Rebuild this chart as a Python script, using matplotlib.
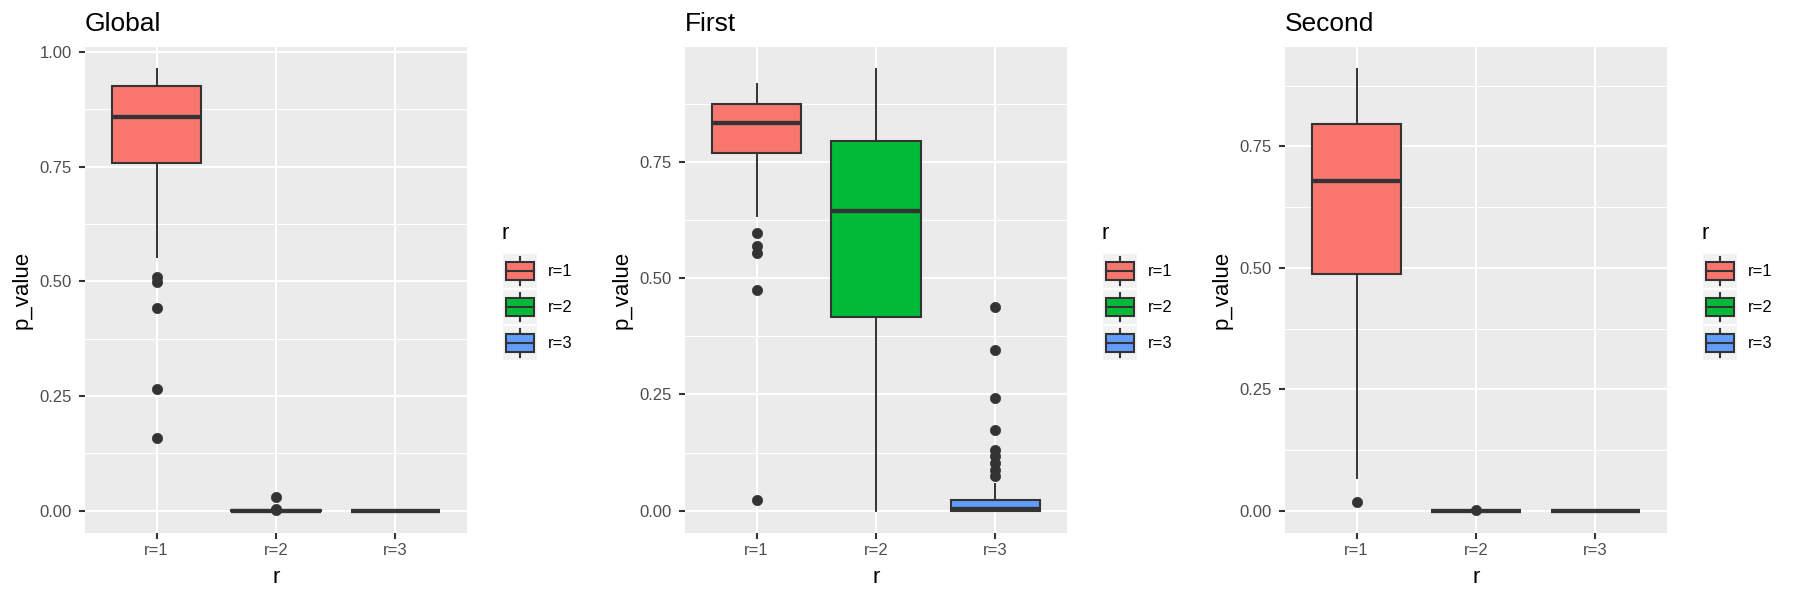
import matplotlib
matplotlib.use("Agg")
import matplotlib.pyplot as plt
from matplotlib.patches import Rectangle
from matplotlib.lines import Line2D
from matplotlib.legend_handler import HandlerBase
from matplotlib.ticker import FixedLocator, FormatStrFormatter

plt.rcParams['font.family'] = ['Liberation Sans', 'DejaVu Sans']

# ---------------- data ----------------
categories = ["r=1", "r=2", "r=3"]
fill_colors = ["#F8766D", "#00BA38", "#619CFF"]
panel_titles = ["Global", "First", "Second"]

global_whislo = [0.553, 0.0, 0.0]
global_q1 = [0.758, 0.0, 0.0]
global_med = [0.859, 0.0, 0.0]
global_q3 = [0.925, 0.0008, 0.0]
global_whishi = [0.963, 0.0015, 0.0]
global_fliers = [[0.509, 0.498, 0.441, 0.264, 0.158], [0.029, 0.004, 0.002], []]

first_whislo = [0.635, 0.0, 0.0]
first_q1 = [0.769, 0.416, 0.0]
first_med = [0.834, 0.645, 0.003]
first_q3 = [0.876, 0.795, 0.023]
first_whishi = [0.919, 0.951, 0.057]
first_fliers = [[0.598, 0.569, 0.555, 0.474, 0.023], [],
                [0.4375, 0.346, 0.242, 0.174, 0.131, 0.117, 0.102, 0.088, 0.075]]

second_whislo = [0.067, 0.0, 0.0]
second_q1 = [0.488, 0.0, 0.0]
second_med = [0.679, 0.0, 0.0]
second_q3 = [0.797, 0.0, 0.0]
second_whishi = [0.910, 0.0, 0.0]
second_fliers = [[0.017], [0.001], []]

yticks_global = [0.0, 0.25, 0.50, 0.75, 1.00]
yticks_first = [0.0, 0.25, 0.50, 0.75]
yticks_second = [0.0, 0.25, 0.50, 0.75]

panels = [
    (global_whislo, global_q1, global_med, global_q3, global_whishi, global_fliers, yticks_global),
    (first_whislo, first_q1, first_med, first_q3, first_whishi, first_fliers, yticks_first),
    (second_whislo, second_q1, second_med, second_q3, second_whishi, second_fliers, yticks_second),
]

# ---------------- style ----------------
DARK = "#333333"
PANEL_BG = "#EBEBEB"
KEY_BG = "#F2F2F2"
TICK_TXT = "#4D4D4D"
W, H = 1800, 600
PANEL_LEFTS = [85, 685, 1285]
PANEL_W = 382
PANEL_TOP = 46.7
PANEL_BOTTOM = 532.7
FS_TICK = 12
KEY_PT = 24.9


class BoxKeyHandler(HandlerBase):
    def create_artists(self, legend, orig_handle, xdescent, ydescent,
                       width, height, fontsize, trans):
        x0, y0 = -xdescent, -ydescent
        bg = Rectangle((x0, y0), width, height, facecolor=KEY_BG,
                       edgecolor='none', transform=trans)
        xm = x0 + 0.5 * width
        wl = Line2D([xm, xm], [y0 + 0.1 * height, y0 + 0.25 * height],
                    color=DARK, linewidth=1.5, transform=trans)
        wu = Line2D([xm, xm], [y0 + 0.75 * height, y0 + 0.9 * height],
                    color=DARK, linewidth=1.5, transform=trans)
        box = Rectangle((x0 + 0.1 * width, y0 + 0.25 * height), 0.8 * width,
                        0.5 * height, facecolor=orig_handle.get_facecolor(),
                        edgecolor=DARK, linewidth=1.5, transform=trans)
        med = Line2D([x0 + 0.1 * width, x0 + 0.9 * width],
                     [y0 + 0.5 * height] * 2, color=DARK, linewidth=1.5,
                     transform=trans)
        return [bg, wl, wu, box, med]


fig = plt.figure(figsize=(18, 6), dpi=100)

for left_px, title, (wlo, q1, med, q3, whi, fl, yt) in zip(PANEL_LEFTS, panel_titles, panels):
    ax = fig.add_axes([left_px / W, 1 - PANEL_BOTTOM / H, PANEL_W / W,
                       (PANEL_BOTTOM - PANEL_TOP) / H])
    ax.set_facecolor(PANEL_BG)
    for s in ax.spines.values():
        s.set_visible(False)
    ax.set_axisbelow(True)

    stats = []
    for i, c in enumerate(categories):
        stats.append(dict(label=c, whislo=wlo[i], q1=q1[i], med=med[i],
                          q3=q3[i], whishi=whi[i], fliers=fl[i]))
    bp = ax.bxp(stats, positions=[1, 2, 3], widths=0.75, patch_artist=True,
                showcaps=False,
                boxprops=dict(edgecolor=DARK, linewidth=1.5),
                whiskerprops=dict(color=DARK, linewidth=1.4),
                medianprops=dict(color=DARK, linewidth=3.1, solid_capstyle='butt'),
                flierprops=dict(marker='o', markerfacecolor=DARK,
                                markeredgecolor=DARK, markersize=7.4,
                                markeredgewidth=0.5, linestyle='none'))
    for patch, col in zip(bp['boxes'], fill_colors):
        patch.set_facecolor(col)

    allv = wlo + q1 + med + q3 + whi + [v for f in fl for v in f]
    lo, hi = min(allv), max(allv)
    rng = hi - lo
    ax.set_ylim(lo - 0.05 * rng, hi + 0.05 * rng)
    ax.set_xlim(0.4, 3.6)

    ax.yaxis.set_major_locator(FixedLocator(yt))
    ax.yaxis.set_major_formatter(FormatStrFormatter('%.2f'))
    minors = [(a + b) / 2 for a, b in zip(yt[:-1], yt[1:])] + [yt[-1] + 0.125]
    ax.yaxis.set_minor_locator(FixedLocator(minors))
    ax.set_xticks([1, 2, 3])
    ax.set_xticklabels(categories)

    ax.grid(which='major', axis='both', color='white', linewidth=1.5)
    ax.grid(which='minor', axis='y', color='white', linewidth=0.75)
    ax.tick_params(axis='both', which='major', length=4.0, width=1.5,
                   color=DARK, labelcolor=TICK_TXT, labelsize=FS_TICK)
    ax.tick_params(axis='y', which='major', pad=5.3)
    ax.tick_params(axis='x', which='major', pad=3.5)
    ax.tick_params(which='minor', length=0)

    ax.set_title(title, loc='left', fontsize=19, pad=11.3, color='black')
    ax.set_xlabel('r', fontsize=16, color='black')
    ax.xaxis.set_label_coords(0.5, -0.0706)
    ax.set_ylabel('p_value', fontsize=16, color='black')
    ax.yaxis.set_label_coords(-0.138, 0.5)

    # legend
    handles = [Rectangle((0, 0), 1, 1, facecolor=c) for c in fill_colors]
    hl = KEY_PT / FS_TICK
    hh = (hl - 0.245) / 0.65
    ax.legend(handles, categories, handler_map={Rectangle: BoxKeyHandler()},
              loc='upper left', bbox_to_anchor=(1.0935, 0.574),
              bbox_transform=ax.transAxes, frameon=False, borderpad=0,
              borderaxespad=0, fontsize=FS_TICK, handlelength=hl,
              handleheight=hh, labelspacing=1.0 / FS_TICK,
              handletextpad=0.63)
    ax.text(1.0916, 0.6037, 'r', transform=ax.transAxes, fontsize=16,
            va='baseline', ha='left', color='black')

fig.savefig('out.png', dpi=100)
